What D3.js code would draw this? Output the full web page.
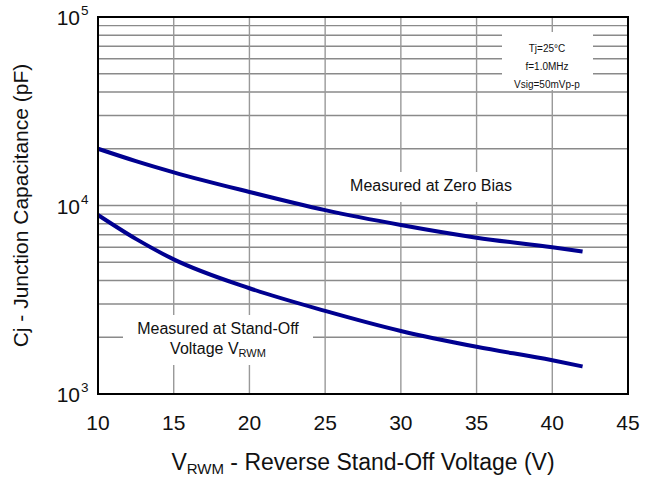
<!DOCTYPE html>
<html>
<head>
<meta charset="utf-8">
<script src="https://cdn.jsdelivr.net/npm/d3@7"></script>
<style>
  html, body { margin: 0; padding: 0; background: #fff; }
  svg { display: block; font-family: "Liberation Sans", Arial, sans-serif; }
</style>
</head>
<body>
<svg id="chart" width="664" height="479"></svg>
<script>
// Reverse stand-off voltage (V)
const voltages = [10, 12.5, 15, 20, 25, 30, 35, 40, 42];
// Junction capacitance measured at zero bias (pF)
const zeroBiasPf = [20000, 17200, 15000, 11800, 9450, 7880, 6750, 6000, 5700];
// Junction capacitance measured at the stand-off voltage (pF)
const standOffPf = [8900, 6650, 5180, 3640, 2760, 2160, 1780, 1510, 1400];
// Axis ticks
const xTicks = [10, 15, 20, 25, 30, 35, 40, 45];
const yExponents = [3, 4, 5];
// Test conditions
const conditions = ["Tj=25°C", "f=1.0MHz", "Vsig=50mVp-p"];

const W = 664, H = 479;
const margin = { top: 17, right: 36, bottom: 85, left: 98 };
const svg = d3.select("#chart");

const x = d3.scaleLinear().domain([10, 45]).range([margin.left, W - margin.right]);
const y = d3.scaleLog().domain([1e3, 1e5]).range([H - margin.bottom, margin.top]);

const gridColor = "#8a8a8a";
const curveColor = "#000090";

// Grid: horizontal lines at every log step, vertical lines every 5 V
const yGrid = [];
for (let d = 1e3; d < 1e5; d *= 10) {
  for (let k = 1; k <= 9; k++) {
    const v = d * k;
    if (v > 1e3 && v < 1e5) yGrid.push(v);
  }
}
const grid = svg.append("g");
grid.selectAll("line.h").data(yGrid).join("line")
  .attr("x1", x(10)).attr("x2", x(45))
  .attr("y1", d => y(d)).attr("y2", d => y(d))
  .attr("stroke", gridColor).attr("stroke-width", 1.4);
grid.selectAll("line.v").data(xTicks.slice(1, -1)).join("line")
  .attr("x1", d => x(d)).attr("x2", d => x(d))
  .attr("y1", y(1e5)).attr("y2", y(1e3))
  .attr("stroke", "#999").attr("stroke-width", 1.4);

// White panels behind the annotations
const panels = [
  { x0: 502, x1: 593, y0: 32, y1: 90 },
  { x0: 340, x1: 525, y0: 172, y1: 202 },
  { x0: 123, x1: 313, y0: 315, y1: 365 }
];
svg.append("g").selectAll("rect").data(panels).join("rect")
  .attr("x", d => d.x0).attr("y", d => d.y0)
  .attr("width", d => d.x1 - d.x0).attr("height", d => d.y1 - d.y0)
  .attr("fill", "#fff");

// Curves
const line = d3.line()
  .x(d => x(d[0])).y(d => y(d[1]))
  .curve(d3.curveMonotoneX);
[zeroBiasPf, standOffPf].forEach(series => {
  svg.append("path")
    .datum(voltages.map((v, i) => [v, series[i]]))
    .attr("d", line)
    .attr("fill", "none")
    .attr("stroke", curveColor)
    .attr("stroke-width", 4);
});

// Frame
svg.append("rect")
  .attr("x", x(10)).attr("y", y(1e5))
  .attr("width", x(45) - x(10)).attr("height", y(1e3) - y(1e5))
  .attr("fill", "none").attr("stroke", "#000").attr("stroke-width", 2);

// X tick labels
svg.append("g").selectAll("text").data(xTicks).join("text")
  .attr("x", d => x(d)).attr("y", y(1e3) + 36)
  .attr("text-anchor", "middle")
  .attr("font-size", 21).attr("fill", "#111")
  .text(d => d);

// Y tick labels as powers of ten
svg.append("g").selectAll("text").data(yExponents).join("text")
  .attr("x", 80).attr("y", d => y(Math.pow(10, d)) + 8)
  .attr("text-anchor", "end")
  .attr("font-size", 21).attr("fill", "#111")
  .text("10");
svg.append("g").selectAll("text").data(yExponents).join("text")
  .attr("x", 81).attr("y", d => y(Math.pow(10, d)) - 2)
  .attr("text-anchor", "start")
  .attr("font-size", 13.5).attr("fill", "#111")
  .text(d => d);

// Axis titles
const xt = svg.append("text")
  .attr("x", (x(10) + x(45)) / 2).attr("y", 470)
  .attr("text-anchor", "middle")
  .attr("font-size", 23).attr("fill", "#111");
xt.append("tspan").text("V");
xt.append("tspan").attr("font-size", 15).attr("dy", 4).text("RWM");
xt.append("tspan").attr("dy", -4).text(" - Reverse Stand-Off Voltage (V)");

svg.append("text")
  .attr("transform", `translate(28,${(y(1e5) + y(1e3)) / 2}) rotate(-90)`)
  .attr("text-anchor", "middle")
  .attr("font-size", 21).attr("fill", "#111")
  .text("Cj - Junction Capacitance (pF)");

// Annotations
svg.append("text")
  .attr("x", 431).attr("y", 191)
  .attr("text-anchor", "middle")
  .attr("font-size", 16).attr("fill", "#111")
  .text("Measured at Zero Bias");

svg.append("text")
  .attr("x", 218).attr("y", 334)
  .attr("text-anchor", "middle")
  .attr("font-size", 16).attr("fill", "#111")
  .text("Measured at Stand-Off");
const v2 = svg.append("text")
  .attr("x", 218).attr("y", 354)
  .attr("text-anchor", "middle")
  .attr("font-size", 16).attr("fill", "#111");
v2.append("tspan").text("Voltage V");
v2.append("tspan").attr("font-size", 11).attr("dy", 3).text("RWM");

svg.append("g").selectAll("text").data(conditions).join("text")
  .attr("x", 547).attr("y", (d, i) => 52 + i * 18)
  .attr("text-anchor", "middle")
  .attr("font-size", 10).attr("fill", "#111")
  .text(d => d);
</script>
</body>
</html>
